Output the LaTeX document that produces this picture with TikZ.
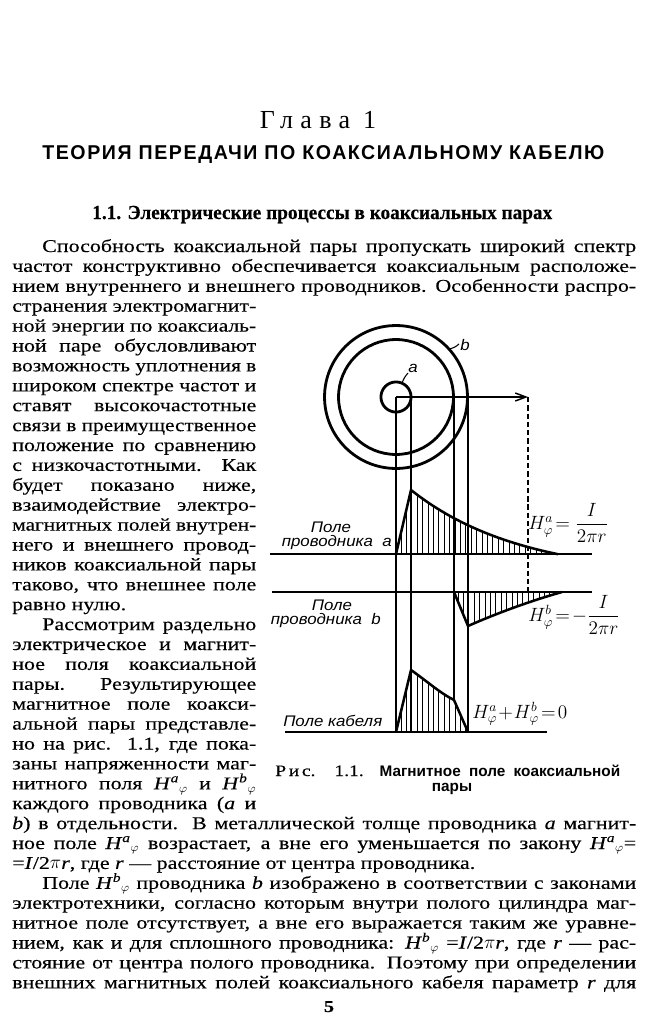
\documentclass[tikz,border=0pt]{standalone}
\usepackage{fontspec}
\setmainfont{Liberation Serif}[FakeStretch=1.22,FakeBold=0.25]
\newfontfamily\figfont{Liberation Sans}[FakeStretch=1.1]
\newfontfamily\headsans{Liberation Sans}[LetterSpace=8]
\newfontfamily\capsans{Liberation Sans}
\newfontfamily\secserif{Liberation Serif}[FakeBold=0.3]
\newfontfamily\spacedfont{Liberation Serif}[LetterSpace=28]
\usetikzlibrary{arrows.meta}
\newlength\px
\setlength\px{0.75pt}
\newsavebox\linebox
\newcommand\fitline[2]{\sbox\linebox{#2}\ifdim\wd\linebox>#1\relax\resizebox{#1}{\height}{\usebox\linebox}\else\makebox[#1][s]{#2}\fi}
\newcommand\Hphi[1]{\textit{H}\textsuperscript{\textit{#1}}\ensuremath{_{\varphi}}}
\newcommand\TL[5]{\node[txt] (#1) at (#2,{252+19.9*#3}) {\fitline{#4\px}{#5}};}
\newcommand\TLr[5]{\node[txt] (#1) at (#2,{252+19.9*#3}) {\makebox[#4\px][l]{#5}};}
\begin{document}
\begin{tikzpicture}[x=0.75pt,y=-0.75pt,
  txt/.style={anchor=base west,inner sep=0pt,font=\fontsize{13.5}{15}\selectfont},
  flab/.style={inner sep=0pt,font=\fontsize{11.5}{13}\figfont\itshape},
  fmath/.style={inner sep=0pt,font=\fontsize{14}{16}\selectfont},
  ring/.style={line width=2.1pt},
  vline/.style={line width=1.1pt},
  axisline/.style={line width=1.5pt},
  curve/.style={line width=1.9pt,line join=round},
  hatch/.style={line width=0.7pt},
  dashline/.style={line width=1.1pt,dash pattern=on 4pt off 2.2pt},
  leader/.style={line width=0.8pt}]
\fill[white] (0,0) rectangle (645,1024);
\useasboundingbox (0,0) rectangle (645,1024);

% ---------- headings ----------
\node[anchor=base,inner sep=0pt] (glava) at (318,128) {\fontsize{19.5}{22}\spacedfont Глава\hspace{0.5em}1};
\node[anchor=base west,inner sep=0pt] (title) at (42,159) {\fontsize{15}{20}\headsans\bfseries\fitline{562\px}{ТЕОРИЯ ПЕРЕДАЧИ ПО КОАКСИАЛЬНОМУ КАБЕЛЮ}};
\node[anchor=base west,inner sep=0pt] (sec) at (92,219) {\fontsize{15}{18}\secserif\bfseries\fitline{460\px}{1.1. Электрические процессы в коаксиальных парах}};

% ---------- body text ----------
\TL{l0}{42}{0}{594}{Способность коаксиальной пары пропускать широкий спектр}
\TL{l1}{12}{1}{624}{частот конструктивно обеспечивается коаксиальным расположе-}
\TL{l2}{12}{2}{624}{нием внутреннего и внешнего проводников. Особенности распро-}
\TL{l3}{12}{3}{244}{странения электромагнит-}
\TL{l4}{12}{4}{244}{ной энергии по коаксиаль-}
\TL{l5}{12}{5}{244}{ной паре обусловливают}
\TL{l6}{12}{6}{244}{возможность уплотнения в}
\TL{l7}{12}{7}{244}{широком спектре частот и}
\TL{l8}{12}{8}{244}{ставят высокочастотные}
\TL{l9}{12}{9}{244}{связи в преимущественное}
\TL{l10}{12}{10}{244}{положение по сравнению}
\TL{l11}{12}{11}{244}{с низкочастотными. Как}
\TL{l12}{12}{12}{244}{будет показано ниже,}
\TL{l13}{12}{13}{244}{взаимодействие электро-}
\TL{l14}{12}{14}{244}{магнитных полей внутрен-}
\TL{l15}{12}{15}{244}{него и внешнего провод-}
\TL{l16}{12}{16}{244}{ников коаксиальной пары}
\TL{l17}{12}{17}{244}{таково, что внешнее поле}
\TLr{l18}{12}{18}{244}{равно нулю.}
\TL{l19}{42}{19}{214}{Рассмотрим раздельно}
\TL{l20}{12}{20}{244}{электрическое и магнит-}
\TL{l21}{12}{21}{244}{ное поля коаксиальной}
\TL{l22}{12}{22}{244}{пары. Результирующее}
\TL{l23}{12}{23}{244}{магнитное поле коакси-}
\TL{l24}{12}{24}{244}{альной пары представле-}
\TL{l25}{12}{25}{244}{но на рис. 1.1, где пока-}
\TL{l26}{12}{26}{244}{заны напряженности маг-}
\TL{l27}{12}{27}{244}{нитного поля \Hphi{a} и \Hphi{b}}
\TL{l28}{12}{28}{244}{каждого проводника (\textit{a} и}
\TL{l29}{12}{29}{624}{\textit{b}) в отдельности. В металлической толще проводника \textit{a} магнит-}
\TL{l30}{12}{30}{624}{ное поле \Hphi{a} возрастает, а вне его уменьшается по закону \Hphi{a}=}
\TLr{l31}{12}{31}{624}{=\textit{I}/2\ensuremath{\pi}\textit{r}, где \textit{r} — расстояние от центра проводника.}
\TL{l32}{42}{32}{594}{Поле \Hphi{b} проводника \textit{b} изображено в соответствии с законами}
\TL{l33}{12}{33}{624}{электротехники, согласно которым внутри полого цилиндра маг-}
\TL{l34}{12}{34}{624}{нитное поле отсутствует, а вне его выражается таким же уравне-}
\TL{l35}{12}{35}{624}{нием, как и для сплошного проводника: \Hphi{b} =\textit{I}/2\ensuremath{\pi}\textit{r}, где \textit{r} — рас-}
\TL{l36}{12}{36}{624}{стояние от центра полого проводника. Поэтому при определении}
\TL{l37}{12}{37}{624}{внешних магнитных полей коаксиального кабеля параметр \textit{r} для}
\node[anchor=base,inner sep=0pt] (pnum) at (329,1012) {\fontsize{12.5}{14}\selectfont\bfseries 5};

% ---------- figure ----------
\coordinate (O) at (396,397);
\draw[ring] (O) circle[radius=53.6pt];
\draw[ring] (O) circle[radius=43.1pt];
\draw[ring] (O) circle[radius=11.3pt];

% projection lines
\coordinate (v1t) at (396,397);  \coordinate (v1b) at (396,732);
\coordinate (v2t) at (411,397);  \coordinate (v2b) at (411,732);
\coordinate (v3t) at (454,397);  \coordinate (v3b) at (454,700);
\coordinate (v4t) at (468,397);  \coordinate (v4b) at (468,732);
\draw[vline] (v1t) -- (v1b);
\draw[vline] (v2t) -- (v2b);
\draw[vline] (v3t) -- (v3b);
\draw[vline] (v4t) -- (v4b);

% radius arrow and dashed line
\coordinate (T) at (528,397);
\coordinate (Tb) at (528,592);
\draw[vline,-{Straight Barb[length=8pt,width=6pt]}] (O) -- (T);
\draw[dashline] (T) -- (Tb);

% axes
\coordinate (axa1) at (270,554); \coordinate (axa2) at (592,554);
\coordinate (axb1) at (272,592); \coordinate (axb2) at (592,592);
\coordinate (axc1) at (285,732); \coordinate (axc2) at (547,732);
\draw[axisline] (axa1) -- (axa2);
\draw[axisline] (axb1) -- (axb2);
\draw[axisline] (axc1) -- (axc2);

% field of conductor a
\begin{scope}
\clip (396,554) -- (411,490) -- plot[domain=411:558,samples=40] (\x,{554-(87.1*exp(-(\x-411)/110)-23.1)}) -- (558,554) -- cycle;
\foreach \hx in {401,406.4,...,566} \draw[hatch] (\hx,480) -- (\hx,556);
\end{scope}
\draw[curve] (396,554) -- (411,490) -- plot[domain=411:558,samples=40] (\x,{554-(87.1*exp(-(\x-411)/110)-23.1)});

% field of conductor b
\begin{scope}
\clip (454,592) -- (468,626) .. controls (495,614) and (530,601) .. (562,592) -- cycle;
\foreach \hx in {458,463.4,...,566} \draw[hatch] (\hx,590) -- (\hx,630);
\end{scope}
\draw[curve] (454,592) -- (468,626) .. controls (495,614) and (530,601) .. (562,592);

% field of the cable
\begin{scope}
\clip (396,732) -- (411,670) .. controls (428,682) and (440,693) .. (454,700) -- (468,732) -- cycle;
\foreach \hx in {401,406.4,...,470} \draw[hatch] (\hx,660) -- (\hx,734);
\end{scope}
\draw[curve] (396,732) -- (411,670) .. controls (428,682) and (440,693) .. (454,700) -- (468,732);

% conductor labels
\node[flab,anchor=base west] (la) at (408,372) {a};
\coordinate (lat) at (402,383);
\coordinate (lah) at (408,373);
\draw[leader] (lat) to[bend left=10] (lah);
\node[flab,anchor=base west] (lb) at (460,350) {b};
\coordinate (lbt) at (449,349);
\coordinate (lbh) at (459,344);
\draw[leader] (lbt) to[bend right=15] (lbh);

% field labels
\node[flab,anchor=base] (pa1) at (331,532) {Поле};
\node[flab,anchor=base east] (pa2) at (392,546) {проводника\ \ a};
\node[flab,anchor=base] (pb1) at (332,610) {Поле};
\node[flab,anchor=base east] (pb2) at (381,624) {проводника\ \ b};
\node[flab,anchor=base west] (pc) at (283,726) {Поле кабеля};

% formulas
\node[fmath,anchor=west] (fa) at (528,523) {$H^{a}_{\varphi}\!={\displaystyle\frac{I}{2\pi r}}$};
\node[fmath,anchor=west] (fb) at (528,615) {$H^{b}_{\varphi}\!=\!-{\displaystyle\frac{I}{2\pi r}}$};
\node[fmath,anchor=base west] (fc) at (472,718) {$H^{a}_{\varphi}\!+\!H^{b}_{\varphi}\!=\!0$};

% caption
\node[anchor=base west,inner sep=0pt] (cap1) at (275,776) {\makebox[345\px][s]{{\fontsize{12}{14}\selectfont Р\,и\,с.\ \ 1.1.}\ \ {\fontsize{11.5}{14}\capsans\bfseries Магнитное поле коаксиальной}}};
\node[anchor=base,inner sep=0pt] (cap2) at (452,791) {\fontsize{11.5}{14}\capsans\bfseries пары};
\end{tikzpicture}
\end{document}
